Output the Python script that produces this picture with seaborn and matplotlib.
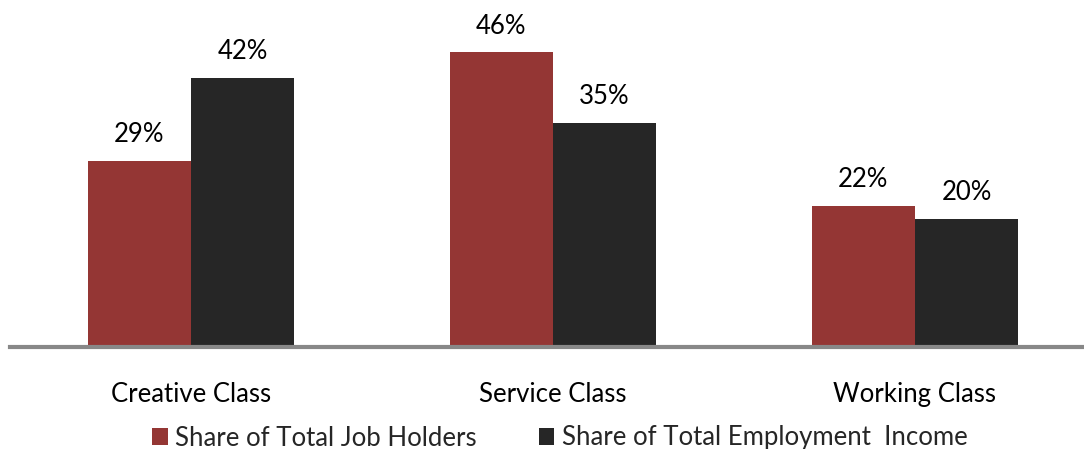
import matplotlib
matplotlib.use("Agg")
import matplotlib.pyplot as plt
import seaborn as sns
import pandas as pd
from matplotlib.patches import Patch

categories = ["Creative Class", "Service Class", "Working Class"]
series_names = ["Share of Total Job Holders", "Share of Total Employment  Income"]
job_holders = [29, 46, 22]
employment_income = [42, 35, 20]
colors = ["#943634", "#262626"]

df = pd.DataFrame({
    "Class": categories * 2,
    "Series": [series_names[0]] * 3 + [series_names[1]] * 3,
    "Value": job_holders + employment_income,
})

sns.set_theme(style="white")
plt.rcParams["font.family"] = ["Lato", "DejaVu Sans"]

fig = plt.figure(figsize=(10.84, 4.49), dpi=100)
ax = fig.add_axes([10 / 1084, 1 - 347 / 449, 1 - 10 / 1084, 347 / 449])

sns.barplot(data=df, x="Class", y="Value", hue="Series", palette=colors,
            width=0.57, ax=ax, legend=False, saturation=1, linewidth=0)

for cont in ax.containers:
    ax.bar_label(cont, labels=[f"{int(v)}%" for v in cont.datavalues],
                 padding=10, fontsize=18.5, color="#000000")

ax.set_xlim(-0.5, 2.467)
ax.set_ylim(0, 54.2)
ax.set_xlabel("")
ax.set_ylabel("")
ax.set_yticks([])
for s in ["top", "right", "left"]:
    ax.spines[s].set_visible(False)
ax.spines["bottom"].set_color("#888888")
ax.spines["bottom"].set_linewidth(3)
ax.tick_params(axis="x", length=0, pad=25, labelsize=18.5, labelcolor="#000000")

handles = [Patch(facecolor=c, edgecolor="none") for c in colors]
fig.legend(handles, series_names, loc="center", bbox_to_anchor=(560 / 1084, 1 - 438 / 449),
           ncol=2, frameon=False, fontsize=18.5, handlelength=0.6, handleheight=0.6,
           handletextpad=0.3, columnspacing=2.4, borderpad=0, borderaxespad=0)

fig.savefig("out.png", dpi=100)
